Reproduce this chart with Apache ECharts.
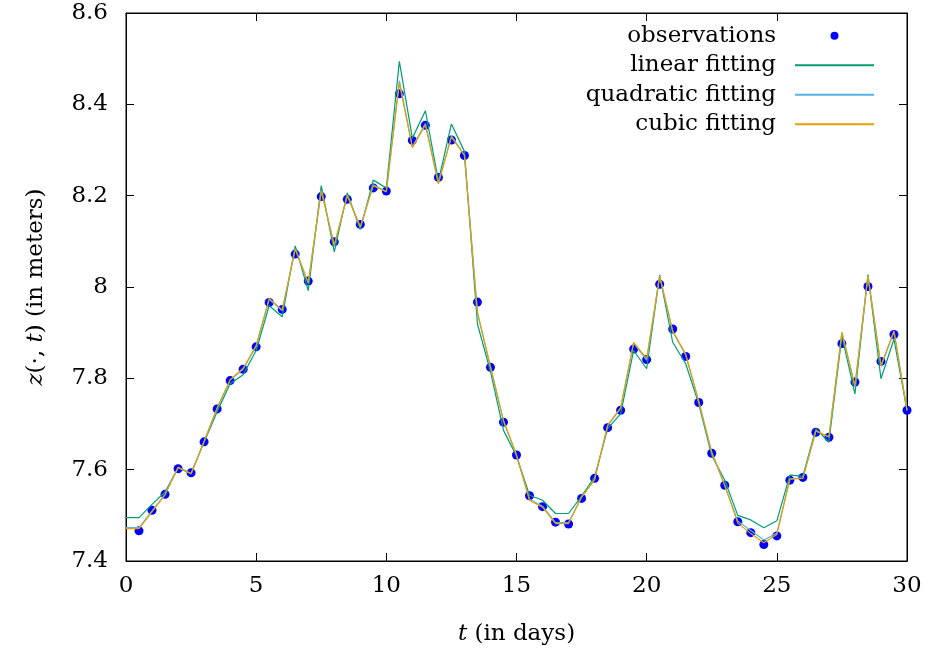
<!DOCTYPE html>
<html>
<head>
<meta charset="utf-8">
<script src="https://cdn.jsdelivr.net/npm/echarts@6/dist/echarts.min.js"></script>
<style>html,body{margin:0;padding:0;background:#fff}#c{width:925px;height:655px}</style>
</head>
<body>
<div id="c"></div>
<script>
const tObs = [0.5,1,1.5,2,2.5,3,3.5,4,4.5,5,5.5,6,6.5,7,7.5,8,8.5,9,9.5,10,10.5,11,11.5,12,12.5,13,13.5,14,14.5,15,15.5,16,16.5,17,17.5,18,18.5,19,19.5,20,20.5,21,21.5,22,22.5,23,23.5,24,24.5,25,25.5,26,26.5,27,27.5,28,28.5,29,29.5,30];
const observations = [7.466,7.511,7.546,7.602,7.593,7.661,7.733,7.795,7.820,7.869,7.966,7.951,8.072,8.013,8.198,8.099,8.192,8.137,8.217,8.210,8.423,8.321,8.354,8.240,8.322,8.288,7.967,7.824,7.704,7.632,7.543,7.519,7.485,7.481,7.537,7.581,7.692,7.730,7.864,7.841,8.006,7.908,7.848,7.747,7.636,7.566,7.486,7.462,7.436,7.455,7.577,7.583,7.682,7.671,7.876,7.792,8.001,7.837,7.896,7.730];
const tFit = [0,0.5,1,1.5,2,2.5,3,3.5,4,4.5,5,5.5,6,6.5,7,7.5,8,8.5,9,9.5,10,10.5,11,11.5,12,12.5,13,13.5,14,14.5,15,15.5,16,16.5,17,17.5,18,18.5,19,19.5,20,20.5,21,21.5,22,22.5,23,23.5,24,24.5,25,25.5,26,26.5,27,27.5,28,28.5,29,29.5,30];
const linearFit = [7.495,7.495,7.524,7.551,7.604,7.592,7.660,7.727,7.788,7.808,7.861,7.959,7.935,8.090,7.992,8.222,8.077,8.206,8.126,8.234,8.217,8.494,8.326,8.386,8.232,8.357,8.297,7.919,7.815,7.686,7.630,7.544,7.533,7.504,7.504,7.542,7.584,7.690,7.722,7.861,7.821,8.026,7.879,7.832,7.744,7.631,7.577,7.500,7.490,7.473,7.488,7.588,7.586,7.690,7.660,7.893,7.766,8.027,7.799,7.886,7.730];
const quadraticFit = [7.473,7.473,7.510,7.546,7.605,7.591,7.662,7.734,7.796,7.820,7.870,7.973,7.948,8.084,8.008,8.212,8.090,8.201,8.131,8.224,8.209,8.452,8.307,8.358,8.228,8.331,8.289,7.943,7.824,7.706,7.632,7.535,7.520,7.484,7.484,7.540,7.579,7.696,7.734,7.877,7.840,8.024,7.902,7.851,7.749,7.637,7.566,7.487,7.467,7.446,7.461,7.580,7.582,7.685,7.671,7.900,7.782,8.025,7.826,7.902,7.730];
const cubicFit = [7.471,7.471,7.508,7.545,7.605,7.591,7.662,7.735,7.797,7.822,7.872,7.975,7.950,8.083,8.010,8.210,8.092,8.200,8.132,8.222,8.208,8.447,8.305,8.355,8.226,8.328,8.288,7.945,7.826,7.708,7.632,7.533,7.518,7.482,7.482,7.540,7.578,7.697,7.736,7.879,7.843,8.024,7.904,7.853,7.750,7.638,7.565,7.483,7.460,7.440,7.458,7.579,7.581,7.685,7.672,7.901,7.784,8.024,7.828,7.904,7.730];
const xTicks = [0,5,10,15,20,25,30];
const yTicks = [7.4,7.6,7.8,8,8.2,8.4,8.6];
const seriesNames = ['observations','linear fitting','quadratic fitting','cubic fitting'];

const pairs = (xs, ys) => xs.map((x, i) => [x, ys[i]]);
const FONT = 'DejaVu Serif';
const chart = echarts.init(document.getElementById('c'), null, {renderer: 'canvas'});
const axisCommon = {
  axisLine: {show: true, onZero: false, lineStyle: {color: '#000', width: 1}},
  axisTick: {show: true, inside: true, length: 8, lineStyle: {color: '#000', width: 1}},
  splitLine: {show: false}
};
const hidden = {opacity: 0};
chart.setOption({
  animation: false,
  backgroundColor: '#fff',
  grid: {left: 126, right: 18, top: 13, bottom: 94, show: true, borderColor: '#000', borderWidth: 1},
  legend: {
    orient: 'vertical', right: 45, top: 16, align: 'right',
    itemWidth: 79, itemHeight: 8, itemGap: 0,
    textStyle: {fontFamily: FONT, fontSize: 23, color: '#000', lineHeight: 29.5, padding: [0, 14, 0, 0]},
    data: [
      {name: seriesNames[0], icon: 'circle'},
      {name: seriesNames[1], itemStyle: hidden},
      {name: seriesNames[2], itemStyle: hidden},
      {name: seriesNames[3], itemStyle: hidden}
    ]
  },
  xAxis: [
    Object.assign({type: 'value', min: 0, max: 30, interval: 5, position: 'bottom',
      name: '{i|t} (in days)', nameLocation: 'middle', nameGap: 62,
      nameTextStyle: {fontFamily: FONT, fontSize: 23, color: '#000', rich: {i: {fontFamily: FONT, fontSize: 23, fontStyle: 'italic', color: '#000'}}},
      axisLabel: {fontFamily: FONT, fontSize: 23, color: '#000', margin: 14, formatter: v => String(+v.toFixed(1))}}, axisCommon),
    Object.assign({type: 'value', min: 0, max: 30, interval: 5, position: 'top', axisLabel: {show: false}}, axisCommon)
  ],
  yAxis: [
    Object.assign({type: 'value', min: 7.4, max: 8.6, interval: 0.2, position: 'left',
      name: '{i|z}(·, {i|t}) (in meters)', nameLocation: 'middle', nameGap: 78, nameRotate: 90,
      nameTextStyle: {fontFamily: FONT, fontSize: 23, color: '#000', rich: {i: {fontFamily: FONT, fontSize: 23, fontStyle: 'italic', color: '#000'}}},
      axisLabel: {fontFamily: FONT, fontSize: 23, color: '#000', margin: 18, formatter: v => String(+v.toFixed(1))}}, axisCommon),
    Object.assign({type: 'value', min: 7.4, max: 8.6, interval: 0.2, position: 'right', axisLabel: {show: false}}, axisCommon)
  ],
  series: [
    {name: seriesNames[0], type: 'scatter', data: pairs(tObs, observations), symbol: 'circle', symbolSize: 9,
      itemStyle: {color: '#0000ff', opacity: 1}, z: 1},
    {name: seriesNames[1], type: 'line', data: pairs(tFit, linearFit), symbol: 'none', showSymbol: false,
      lineStyle: {color: '#009e73', width: 1.2}, itemStyle: {color: '#009e73'}, z: 2},
    {name: seriesNames[2], type: 'line', data: pairs(tFit, quadraticFit), symbol: 'none', showSymbol: false,
      lineStyle: {color: '#56b4e9', width: 1.2}, itemStyle: {color: '#56b4e9'}, z: 3},
    {name: seriesNames[3], type: 'line', data: pairs(tFit, cubicFit), symbol: 'none', showSymbol: false,
      lineStyle: {color: '#e69f00', width: 1.2}, itemStyle: {color: '#e69f00'}, z: 4}
  ]
});
</script>
</body>
</html>
